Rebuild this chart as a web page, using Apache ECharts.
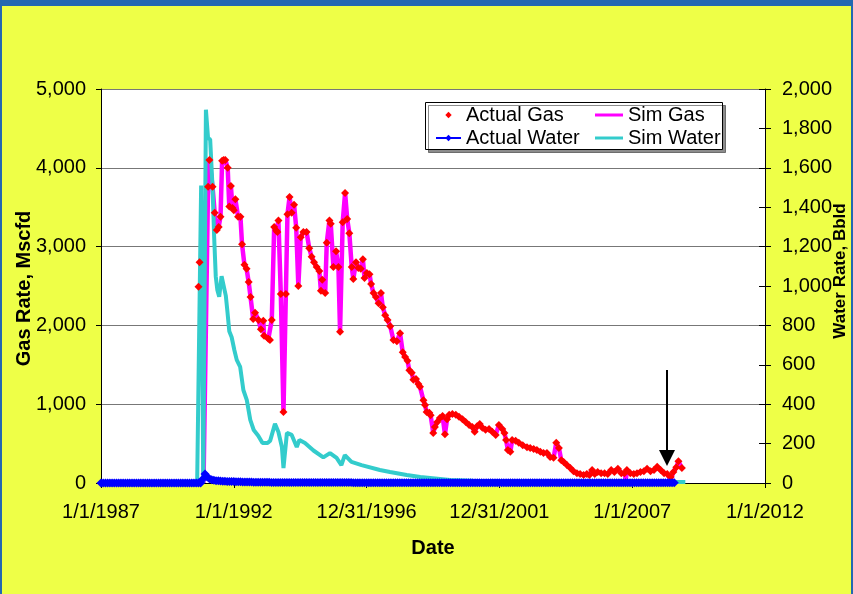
<!DOCTYPE html>
<html><head><meta charset="utf-8">
<script src="https://cdn.jsdelivr.net/npm/echarts@6/dist/echarts.min.js"></script>
<style>html,body{margin:0;padding:0;background:#eeff47}#c{width:853px;height:594px}</style>
</head><body><div id="c"></div>
<script>
// ---- DATA ----
const xTickLabels = ['1/1/1987', '1/1/1992', '12/31/1996', '12/31/2001', '1/1/2007', '1/1/2012'];
const xStartYear = 1987;
const xEndYear = 2012;

// Actual gas [decimal year, Mscfd]
const actualGas = [
[1990.67,2490],[1990.71,2800],
[1991.03,3760],[1991.08,4100],[1991.20,3760],[1991.28,3430],[1991.36,3210],[1991.43,3250],[1991.50,3380],[1991.56,4090],[1991.62,4100],[1991.68,4100],[1991.77,4000],[1991.83,3510],[1991.89,3770],[1991.95,3490],
[1992.00,3460],[1992.06,3600],[1992.16,3380],[1992.25,3380],[1992.31,3030],[1992.40,2770],[1992.48,2720],[1992.56,2550],[1992.63,2360],[1992.73,2080],[1992.80,2160],[1992.93,2070],
[1993.02,1950],[1993.11,2060],[1993.14,1870],[1993.30,1830],[1993.36,1815],[1993.43,2070],[1993.52,3250],[1993.60,3200],[1993.64,3185],[1993.68,3330],[1993.77,2400],[1993.87,900],[1993.96,2400],
[1994.02,3410],[1994.10,3630],[1994.18,3430],[1994.27,3530],[1994.35,3240],[1994.43,2500],[1994.52,3120],[1994.62,3185],[1994.74,3185],[1994.84,2980],[1994.93,2870],
[1995.02,2800],[1995.12,2740],[1995.22,2690],[1995.28,2440],[1995.33,2580],[1995.44,2410],[1995.50,3050],[1995.60,3330],[1995.65,3290],[1995.75,2740],[1995.85,2940],[1995.94,2740],
[1996.00,1920],[1996.10,3310],[1996.19,3680],[1996.27,3350],[1996.35,3170],[1996.44,2740],[1996.50,2590],[1996.60,2800],[1996.69,2730],[1996.78,2720],[1996.86,2840],[1996.92,2600],
[1997.01,2665],[1997.11,2650],[1997.17,2525],[1997.26,2410],[1997.35,2360],[1997.45,2280],[1997.54,2410],[1997.61,2230],[1997.70,2130],[1997.79,2070],[1997.89,1990],
[1998.01,1815],[1998.14,1800],[1998.26,1900],[1998.36,1660],[1998.45,1600],[1998.54,1550],[1998.61,1430],[1998.70,1400],[1998.76,1310],[1998.86,1320],[1998.95,1255],
[1999.01,1220],[1999.14,1050],[1999.20,990],[1999.26,900],[1999.36,890],[1999.41,860],[1999.51,635],[1999.57,710],[1999.66,775],[1999.76,825],[1999.86,850],[1999.95,620],
[2000.03,810],[2000.11,865],[2000.23,875],[2000.36,865],[2000.48,840],[2000.61,810],[2000.73,775],[2000.86,735],[2000.98,710],
[2001.07,650],[2001.16,720],[2001.26,750],[2001.36,700],[2001.48,675],[2001.61,685],[2001.73,650],[2001.86,610],[2001.98,735],
[2002.11,685],[2002.19,635],[2002.25,545],[2002.32,420],[2002.41,395],[2002.48,545],[2002.61,535],[2002.73,510],[2002.88,480],
[2003.04,455],[2003.16,445],[2003.29,430],[2003.41,420],[2003.54,395],[2003.66,380],[2003.79,380],[2003.91,330],
[2004.04,320],[2004.14,510],[2004.24,445],[2004.33,290],[2004.42,265],[2004.54,230],[2004.67,190],[2004.79,150],[2004.92,125],
[2005.04,115],[2005.17,100],[2005.29,115],[2005.39,100],[2005.49,165],[2005.59,115],[2005.70,140],[2005.83,125],[2005.96,125],
[2006.08,115],[2006.21,165],[2006.33,140],[2006.46,180],[2006.59,125],[2006.71,125],[2006.80,165],[2006.93,125],
[2007.06,115],[2007.18,125],[2007.31,140],[2007.44,150],[2007.56,180],[2007.69,150],[2007.82,165],[2007.94,205],
[2008.07,165],[2008.20,125],[2008.32,115],[2008.45,75],[2008.55,140],[2008.66,200],[2008.74,275],[2008.87,190]
];

// Simulated gas [decimal year, Mscfd]
const simGas = [
[1990.86,0],
[1991.03,3760],[1991.08,4100],[1991.20,3760],[1991.28,3430],[1991.36,3210],[1991.43,3250],[1991.50,3380],[1991.56,4090],[1991.62,4100],[1991.68,4100],[1991.77,4000],[1991.83,3510],[1991.89,3770],[1991.95,3490],
[1992.00,3460],[1992.06,3600],[1992.16,3380],[1992.25,3380],[1992.31,3030],[1992.40,2770],[1992.48,2720],[1992.56,2550],[1992.63,2360],[1992.73,2080],[1992.80,2160],[1992.93,2070],
[1993.02,1950],[1993.11,2060],[1993.14,1870],[1993.30,1830],[1993.36,1815],[1993.43,2070],[1993.52,3250],[1993.60,3200],[1993.64,3185],[1993.68,3330],[1993.77,2400],[1993.87,900],[1993.96,2400],
[1994.02,3410],[1994.10,3630],[1994.18,3430],[1994.27,3530],[1994.35,3240],[1994.43,2500],[1994.52,3120],[1994.62,3185],[1994.74,3185],[1994.84,2980],[1994.93,2870],
[1995.02,2800],[1995.12,2740],[1995.22,2690],[1995.28,2440],[1995.33,2580],[1995.44,2410],[1995.50,3050],[1995.60,3330],[1995.65,3290],[1995.75,2740],[1995.85,2940],[1995.94,2740],
[1996.00,1920],[1996.10,3310],[1996.19,3680],[1996.27,3350],[1996.35,3170],[1996.44,2740],[1996.50,2590],[1996.60,2800],[1996.69,2730],[1996.78,2720],[1996.86,2840],[1996.92,2600],
[1997.01,2665],[1997.11,2650],[1997.17,2525],[1997.26,2410],[1997.35,2360],[1997.45,2280],[1997.54,2410],[1997.61,2230],[1997.70,2130],[1997.79,2070],[1997.89,1990],
[1998.01,1815],[1998.14,1800],[1998.26,1900],[1998.36,1660],[1998.45,1600],[1998.54,1550],[1998.61,1430],[1998.70,1400],[1998.76,1310],[1998.86,1320],[1998.95,1255],
[1999.01,1220],[1999.14,1050],[1999.20,990],[1999.26,900],[1999.36,890],[1999.41,860],[1999.51,635],[1999.57,710],[1999.66,775],[1999.76,825],[1999.86,850],[1999.95,620],
[2000.03,810],[2000.11,865],[2000.23,875],[2000.36,865],[2000.48,840],[2000.61,810],[2000.73,775],[2000.86,735],[2000.98,710],
[2001.07,650],[2001.16,720],[2001.26,750],[2001.36,700],[2001.48,675],[2001.61,685],[2001.73,650],[2001.86,610],[2001.98,735],
[2002.11,685],[2002.19,635],[2002.25,545],[2002.32,420],[2002.41,395],[2002.48,545],[2002.61,535],[2002.73,510],[2002.88,480],
[2003.04,455],[2003.16,445],[2003.29,430],[2003.41,420],[2003.54,395],[2003.66,380],[2003.79,380],[2003.91,330],
[2004.04,320],[2004.14,510],[2004.24,445],[2004.33,290],[2004.42,265],[2004.54,230],[2004.67,190],[2004.79,150],[2004.92,125],
[2005.04,115],[2005.17,100],[2005.29,115],[2005.39,100],[2005.49,165],[2005.59,115],[2005.70,140],[2005.83,125],[2005.96,125],
[2006.08,115],[2006.21,165],[2006.33,140],[2006.46,180],[2006.59,125],[2006.71,125],[2006.76,40],[2006.80,165],[2006.93,125],
[2007.06,115],[2007.18,125],[2007.31,140],[2007.44,150],[2007.56,180],[2007.69,150],[2007.82,165],[2007.94,205],
[2008.07,165],[2008.20,125],[2008.32,115],[2008.45,40],[2008.55,140],[2008.66,200],[2008.74,275],[2008.87,190]
];

// Simulated water [decimal year, Bbl/d]
const simWater = [
[1987.00,0],[1990.62,0],[1990.66,0],[1990.77,1510],[1990.85,0],[1990.95,1895],[1991.03,1750],[1991.11,1745],
[1991.20,1500],[1991.26,1250],[1991.32,1050],[1991.38,980],[1991.45,945],[1991.54,1050],[1991.61,1060],[1991.70,950],
[1991.76,870],[1991.83,770],[1991.92,740],[1992.02,675],[1992.11,625],[1992.24,589],[1992.36,472],[1992.49,421],
[1992.62,320],[1992.75,269],[1992.92,240],[1993.08,203],[1993.27,203],[1993.37,215],[1993.55,300],[1993.68,259],
[1993.81,183],[1993.87,76],[1994.00,254],[1994.18,244],[1994.37,183],[1994.47,218],[1994.68,203],[1995.00,165],
[1995.37,130],[1995.62,152],[1995.87,127],[1996.05,91],[1996.18,142],[1996.43,107],[1996.81,91],[1997.50,66],
[1997.88,56],[1998.51,41],[1999.02,30],[2000.14,15],[2001.00,12],[2002.50,9],[2004.00,7],[2006.00,6],[2008.00,5],[2009.00,5]
];

// Actual water, monthly values from Jan 1987 (Bbl/d)
const actualWaterStartYear = 1987;
const actualWaterMonthly = [
0,0,0,0,0,0,0,0,0,0,0,0,
0,0,0,0,0,0,0,0,0,0,0,0,
0,0,0,0,0,0,0,0,0,0,0,0,
0,0,0,0,0,0,0,0,0,0,20,46,
30,22,17,14,12,11,10,9,9,8,8,7,
7,6,6,6,5,5,5,5,5,4,4,4,
4,4,4,4,4,3,3,3,3,3,3,3,
3,3,3,3,3,3,3,2,2,2,2,2,
2,2,2,2,2,2,2,2,2,2,2,2,
2,2,2,2,2,2,1,1,1,1,1,1,
1,1,1,1,1,1,1,1,1,1,1,1,
1,1,1,1,1,1,1,1,1,1,1,1,
1,1,1,1,1,1,1,1,1,1,1,1,
1,1,1,1,1,1,1,1,1,1,1,1,
1,1,1,1,1,1,1,1,1,1,1,1,
1,1,1,1,1,1,1,1,1,1,1,1,
1,1,1,1,1,1,1,1,1,1,1,1,
1,1,1,1,1,1,1,1,1,1,1,1,
1,1,1,1,1,1,1,1,1,1,1,1,
1,1,1,1,1,1,1,1,1,1,1,1,
1,1,1,1,1,1,1,1,1,1,1,1,
1,1,1,1,1,1,1,1
];

// Annotation arrow (decimal year, gas from -> gas to)
const arrowYear = 2008.31;
const arrowFromGas = 1434;
const arrowToGas = 318;

// ---- BUILD ----
const toX = y => y - xStartYear;
const FONT = "'Liberation Sans', Arial, sans-serif";
const fmt = v => Number(v).toLocaleString('en-US');

const chart = echarts.init(document.getElementById('c'));
chart.setOption({
  animation: false,
  backgroundColor: '#eeff47',
  textStyle: { fontFamily: FONT },
  grid: { left: 101, right: 88, top: 89, bottom: 111, show: true, backgroundColor: '#ffffff', borderWidth: 0,
    containLabel: false, outerBoundsMode: 'none' },
  graphic: [
    { type: 'rect', shape: { x: 0, y: 0, width: 853, height: 6 }, style: { fill: '#2368b0' }, z: 20 },
    { type: 'rect', shape: { x: 0, y: 0, width: 2, height: 594 }, style: { fill: '#2368b0' }, z: 20 },
    { type: 'rect', shape: { x: 851, y: 0, width: 2, height: 594 }, style: { fill: '#2368b0' }, z: 20 },
    { type: 'rect', shape: { x: 425.5, y: 102.5, width: 297, height: 47 },
      style: { fill: '#ffffff', stroke: '#000000', lineWidth: 1, shadowColor: 'rgba(0,0,0,0.45)', shadowOffsetX: 3, shadowOffsetY: 3, shadowBlur: 0 }, z: 8 }
  ],
  legend: [
    { orient: 'vertical', left: 435, top: 105, itemWidth: 25, itemHeight: 8, itemGap: 3, padding: 0, z: 10,
      data: ['Actual Gas', 'Actual Water'],
      textStyle: { fontSize: 20, color: '#000', fontFamily: FONT } },
    { orient: 'vertical', left: 595, top: 105, itemWidth: 28, itemHeight: 3, itemGap: 3, padding: 0, z: 10, icon: 'rect',
      data: ['Sim Gas', 'Sim Water'],
      textStyle: { fontSize: 20, color: '#000', fontFamily: FONT } }
  ],
  xAxis: {
    type: 'value', min: 0, max: xEndYear - xStartYear, interval: 5,
    name: 'Date', nameLocation: 'middle', nameGap: 55, nameMoveOverlap: false,
    nameTextStyle: { fontSize: 20, fontWeight: 'bold', color: '#000', fontFamily: FONT },
    axisLine: { show: true, onZero: false, lineStyle: { color: '#000', width: 1 } },
    axisTick: { show: true, inside: false, length: 5, lineStyle: { color: '#000' } },
    axisLabel: { margin: 19, fontSize: 20, color: '#000', fontFamily: FONT,
      formatter: v => xTickLabels[Math.round(v / 5)] },
    splitLine: { show: false }
  },
  yAxis: [
    { type: 'value', min: 0, max: 5000, interval: 1000, position: 'left',
      name: 'Gas Rate, Mscfd', nameLocation: 'middle', nameGap: 67, nameMoveOverlap: false,
      nameTextStyle: { fontSize: 20, fontWeight: 'bold', color: '#000', fontFamily: FONT, padding: [0, 5, 0, 0] },
      axisLine: { show: true, lineStyle: { color: '#000', width: 1 } },
      axisTick: { show: true, inside: false, length: 5, lineStyle: { color: '#000' } },
      axisLabel: { margin: 15, fontSize: 20, color: '#000', fontFamily: FONT, formatter: fmt },
      splitLine: { show: true, lineStyle: { color: '#777', width: 1 } } },
    { type: 'value', min: 0, max: 2000, interval: 200, position: 'right',
      name: 'Water Rate, Bbld', nameLocation: 'middle', nameGap: 67, nameMoveOverlap: false,
      nameTextStyle: { fontSize: 17, fontWeight: 'bold', color: '#000', fontFamily: FONT, padding: [0, 0, 0, 30] },
      axisLine: { show: true, lineStyle: { color: '#000', width: 1 } },
      axisTick: { show: true, inside: false, length: 6, lineStyle: { color: '#000' } },
      axisLabel: { margin: 17, fontSize: 20, color: '#000', fontFamily: FONT, formatter: fmt },
      splitLine: { show: false } },
    { type: 'value', min: 0, max: 2000, interval: 200, position: 'right',
      axisLine: { show: false }, axisLabel: { show: false }, splitLine: { show: false },
      axisTick: { show: true, inside: true, length: 6, lineStyle: { color: '#000' } } }
  ],
  series: [
    { name: 'Sim Gas', type: 'line', xAxisIndex: 0, yAxisIndex: 0, symbol: 'none',
      data: simGas.map(d => [toX(d[0]), d[1]]),
      lineStyle: { color: '#ff00ff', width: 4.5 }, itemStyle: { color: '#ff00ff' } },
    { name: 'Actual Gas', type: 'line', xAxisIndex: 0, yAxisIndex: 0, symbol: 'diamond', symbolSize: 8,
      data: actualGas.map(d => [toX(d[0]), d[1]]),
      lineStyle: { width: 0, opacity: 0 }, itemStyle: { color: '#ff0000' },
      markLine: { silent: true, symbol: ['none', 'triangle'], symbolSize: 16, label: { show: false },
        lineStyle: { color: '#000', width: 2, type: 'solid', opacity: 1 },
        data: [[{ coord: [toX(arrowYear), arrowFromGas] }, { coord: [toX(arrowYear), arrowToGas] }]] } },
    { name: 'Sim Water', type: 'line', xAxisIndex: 0, yAxisIndex: 1, symbol: 'none',
      data: simWater.map(d => [toX(d[0]), d[1]]),
      lineStyle: { color: '#33cccc', width: 4 }, itemStyle: { color: '#33cccc' } },
    { name: 'Actual Water', type: 'line', xAxisIndex: 0, yAxisIndex: 1, symbol: 'diamond', symbolSize: 9,
      data: actualWaterMonthly.map((v, i) => [toX(actualWaterStartYear + i / 12), v]),
      lineStyle: { color: '#0000ff', width: 1.5 }, itemStyle: { color: '#0000ff' } }
  ]
});
</script></body></html>
